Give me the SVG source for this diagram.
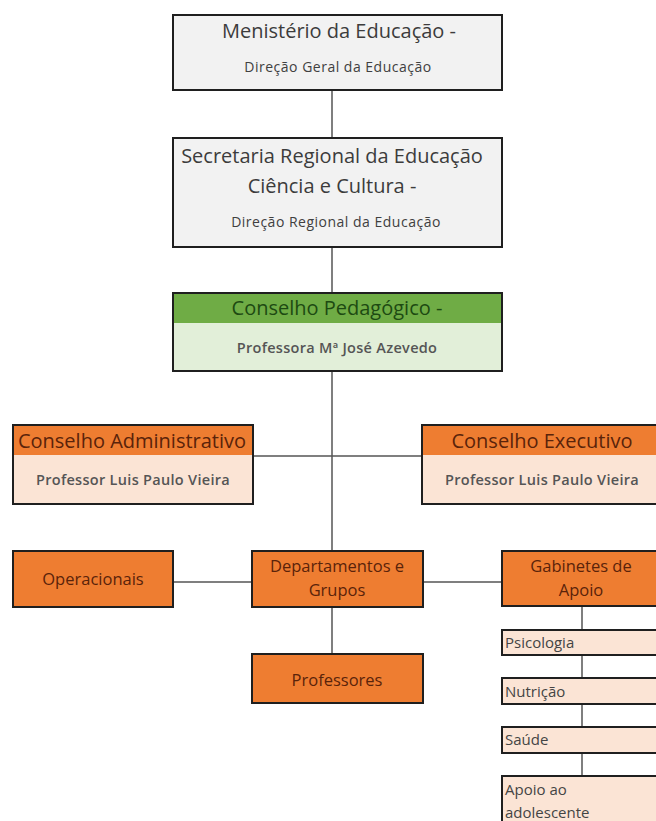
<svg xmlns="http://www.w3.org/2000/svg" width="656" height="821" viewBox="0 0 656 821">
<style>
text{font-family:"Open Sans","Noto Sans","Liberation Sans",sans-serif}
.box{stroke:#1f1f1f;stroke-width:2}
.gray{fill:#f2f2f2}
.ghead{fill:#6fac45}
.gbody{fill:#e2efd9}
.ohead{fill:#ee7d31}
.obody{fill:#fbe4d5}
.t1{font-size:20px;fill:#3c3c3c;text-anchor:middle}
.t2{font-size:14px;fill:#404040;text-anchor:middle;letter-spacing:0.5px}
.tg{font-size:20px;fill:#1d4a12;text-anchor:middle}
.to{font-size:20px;fill:#5a230a;text-anchor:middle}
.tb{font-size:14.5px;fill:#555;text-anchor:middle;font-weight:600;letter-spacing:0.3px}
.tm{font-size:16.5px;fill:#5a230a;text-anchor:middle}
.ts{font-size:15px;fill:#444}
.conn{stroke:#555;stroke-width:1.5;fill:none}
</style>
<g id="connectors">
<line class="conn" x1="332" y1="90" x2="332" y2="138"/>
<line class="conn" x1="332" y1="247" x2="332" y2="293"/>
<line class="conn" x1="332" y1="371" x2="332" y2="552"/>
<line class="conn" x1="253" y1="456" x2="422" y2="456"/>
<line class="conn" x1="173" y1="582" x2="252" y2="582"/>
<line class="conn" x1="423" y1="582" x2="502" y2="582"/>
<line class="conn" x1="332" y1="607" x2="332" y2="654"/>
<line class="conn" x1="582" y1="606" x2="582" y2="776"/>
</g>
<g id="ministerio">
<rect class="box gray" x="173" y="15" width="329" height="75"/>
<text class="t1" x="339" y="38">Menistério da Educação -</text>
<text class="t2" x="338" y="72">Direção Geral da Educação</text>
</g>
<g id="secretaria">
<rect class="box gray" x="173" y="138" width="329" height="109"/>
<text class="t1" x="332" y="163">Secretaria Regional da Educação</text>
<text class="t1" x="332" y="193">Ciência e Cultura -</text>
<text class="t2" x="336" y="227">Direção Regional da Educação</text>
</g>
<g id="pedagogico">
<rect class="gbody" x="173" y="293" width="329" height="78"/>
<rect class="ghead" x="173" y="293" width="329" height="30"/>
<rect class="box" fill="none" x="173" y="293" width="329" height="78"/>
<text class="tg" x="337" y="315">Conselho Pedagógico -</text>
<text class="tb" x="337" y="353">Professora Mª José Azevedo</text>
</g>
<g id="administrativo">
<rect class="obody" x="13" y="425" width="240" height="79"/>
<rect class="ohead" x="13" y="425" width="240" height="30"/>
<rect class="box" fill="none" x="13" y="425" width="240" height="79"/>
<text class="to" x="132" y="448">Conselho Administrativo</text>
<text class="tb" x="133" y="485">Professor Luis Paulo Vieira</text>
</g>
<g id="executivo">
<rect class="obody" x="422" y="425" width="240" height="79"/>
<rect class="ohead" x="422" y="425" width="240" height="30"/>
<rect class="box" fill="none" x="422" y="425" width="240" height="79"/>
<text class="to" x="542" y="448">Conselho Executivo</text>
<text class="tb" x="542" y="485">Professor Luis Paulo Vieira</text>
</g>
<g id="operacionais">
<rect class="box ohead" x="13" y="551" width="160" height="56"/>
<text class="tm" x="93" y="585">Operacionais</text>
</g>
<g id="departamentos">
<rect class="box ohead" x="252" y="551" width="171" height="56"/>
<text class="tm" x="337" y="572">Departamentos e</text>
<text class="tm" x="337" y="596">Grupos</text>
</g>
<g id="gabinetes">
<rect class="box ohead" x="502" y="551" width="160" height="55"/>
<text class="tm" x="581" y="572">Gabinetes de</text>
<text class="tm" x="581" y="596">Apoio</text>
</g>
<g id="professores">
<rect class="box ohead" x="252" y="654" width="171" height="49"/>
<text class="tm" x="337" y="686">Professores</text>
</g>
<g id="psicologia">
<rect class="box obody" x="502" y="630" width="160" height="25"/>
<text class="ts" x="505" y="648">Psicologia</text>
</g>
<g id="nutricao">
<rect class="box obody" x="502" y="678" width="160" height="26"/>
<text class="ts" x="505" y="697">Nutrição</text>
</g>
<g id="saude">
<rect class="box obody" x="502" y="727" width="160" height="26"/>
<text class="ts" x="505" y="745">Saúde</text>
</g>
<g id="apoio">
<rect class="box obody" x="502" y="776" width="160" height="60"/>
<text class="ts" x="505" y="795">Apoio ao</text>
<text class="ts" x="505" y="818">adolescente</text>
</g>
</svg>
